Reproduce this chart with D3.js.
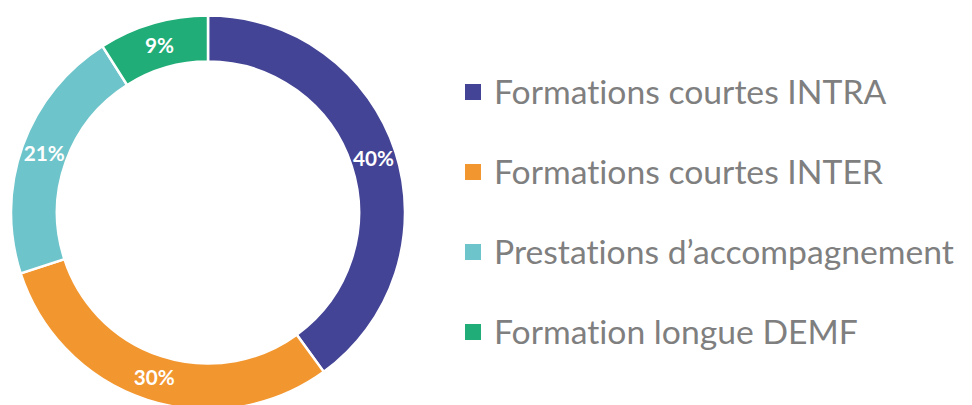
<!DOCTYPE html>
<html><head><meta charset="utf-8">
<script src="https://cdn.jsdelivr.net/npm/d3@7"></script>
<style>body{margin:0;background:#fff;}svg{display:block;}text{font-variant-ligatures:none;font-feature-settings:"liga" 0;}</style>
</head><body>
<svg id="c" width="972" height="405"></svg>
<script>
const categories = ["Formations courtes INTRA","Formations courtes INTER","Prestations d’accompagnement","Formation longue DEMF"];
const values = [40, 30, 21, 9];
const labels = ["40%","30%","21%","9%"];
const colors = ["#444496","#f2962f","#6dc4ca","#20ad77"];

const svg = d3.select("#c");
const cx = 208, cy = 212.5, rOut = 197, rIn = 151;
const pie = d3.pie().sort(null).value(d => d)(values);
const arc = d3.arc().innerRadius(rIn).outerRadius(rOut);
const labelArc = d3.arc().innerRadius(174).outerRadius(174);
const g = svg.append("g").attr("transform", `translate(${cx},${cy})`);
g.selectAll("path").data(pie).join("path")
  .attr("d", arc).attr("fill", (d,i) => colors[i])
  .attr("stroke", "#fff").attr("stroke-width", 2.5);
const lab = g.selectAll("text").data(pie).join("text")
  .attr("transform", d => `translate(${labelArc.centroid(d)})`)
  .attr("text-anchor", "middle").attr("dy", "0.36em")
  .attr("fill", "#fff").attr("font-family", "Lato, sans-serif")
  .attr("font-weight", "bold").attr("font-size", 20)
  .text((d,i) => labels[i]);
const lw = lab.nodes()[0].getComputedTextLength();
lab.attr("font-size", 20 * 41 / lw);

const legend = svg.append("g");
const rowY = d3.scalePoint().domain(categories).range([92, 332]);
const items = legend.selectAll("g").data(categories).join("g")
  .attr("transform", d => `translate(465,${rowY(d)})`);
items.append("rect").attr("x", 0).attr("y", -8).attr("width", 16).attr("height", 16)
  .attr("fill", (d,i) => colors[i]);
const txt = items.append("text").attr("x", 29).attr("dy", "0.35em")
  .attr("fill", "#7f7f7f").attr("font-family", "Lato, sans-serif")
  .attr("font-size", 28).text(d => d);
// fit widest legend label to reference width
const w = txt.nodes()[2].getComputedTextLength();
txt.attr("font-size", 28 * 460 / w);
</script>
</body></html>
